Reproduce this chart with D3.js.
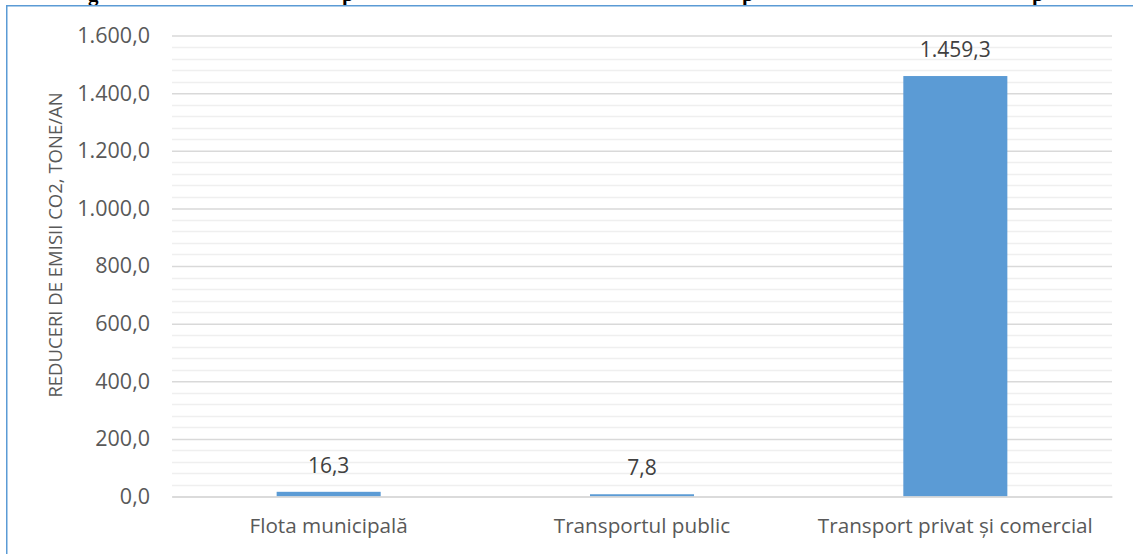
<!DOCTYPE html>
<html><head><meta charset="utf-8">
<script src="https://cdn.jsdelivr.net/npm/d3@7"></script>
<style>
html,body{margin:0;padding:0;background:#fff;}
svg{display:block;}
text{font-family:"Open Sans",sans-serif;}
</style></head>
<body>
<svg id="chart" width="1133" height="554"></svg>
<script>
const categories = ["Flota municipală", "Transportul public", "Transport privat și comercial"];
const values = [16.3, 7.8, 1459.3];
const yTicks = [0, 200, 400, 600, 800, 1000, 1200, 1400, 1600];
const yTitle = "REDUCERI DE EMISII CO2, TONE/AN";
const titleGlyphs = [["g", 88], ["p", 342], ["p", 742], ["p", 1032]];

const ro = d3.formatLocale({decimal: ",", thousands: ".", grouping: [3], currency: ["", " lei"]});
const fmt = ro.format(",.1f");

const svg = d3.select("#chart");
const W = 1133, H = 554;
const x0 = 172, x1 = 1112, yTop = 35.5, yBot = 496.5;

const x = d3.scaleBand().domain(categories).range([x0, x1]).paddingInner(0.668).paddingOuter(0.334);
const y = d3.scaleLinear().domain([0, 1600]).range([yBot, yTop]);

// cut-off title (only descenders visible, as in the reference)
const t = svg.append("text").attr("y", 0.5)
  .style("font-family", "'Liberation Serif', serif").style("font-weight", "bold").style("font-size", "21px").attr("fill", "#000");
titleGlyphs.forEach(([g, gx]) => t.append("tspan").attr("x", gx).text(g));

// minor grid
const minor = d3.range(0, 1601, 40).filter(v => v % 200 !== 0);
svg.append("g").selectAll("line").data(minor).join("line")
  .attr("x1", x0).attr("x2", x1).attr("y1", d => Math.round(y(d)) + 0.5).attr("y2", d => Math.round(y(d)) + 0.5)
  .attr("stroke", "#efefef").attr("stroke-width", 1.3);

// major grid via axis
const yAxis = d3.axisLeft(y).tickValues(yTicks).tickFormat(fmt).tickSize(-(x1 - x0)).tickPadding(22);
const ga = svg.append("g").attr("transform", `translate(${x0},0)`).call(yAxis);
ga.select(".domain").remove();
ga.selectAll(".tick line").attr("stroke", "#d9d9d9").attr("stroke-width", 1.5);
ga.selectAll(".tick text").attr("fill", "#595959").style("font-size", "21.5px").style("font-family", "'Open Sans',sans-serif");

// bars
svg.append("g").selectAll("rect").data(values).join("rect")
  .attr("x", (d, i) => x(categories[i])).attr("width", x.bandwidth())
  .attr("y", d => y(d)).attr("height", d => yBot - y(d))
  .attr("fill", "#5b9bd5");

// data labels
svg.append("g").selectAll("text").data(values).join("text")
  .attr("x", (d, i) => x(categories[i]) + x.bandwidth() / 2)
  .attr("y", d => y(d) - 19)
  .attr("text-anchor", "middle").attr("fill", "#404040").style("font-size", "21px")
  .text(d => fmt(d));

// category axis
const xAxis = d3.axisBottom(x).tickSize(0).tickPadding(22);
const gx = svg.append("g").attr("transform", `translate(0,${yBot})`).call(xAxis);
gx.select(".domain").attr("stroke", "#d9d9d9").attr("stroke-width", 1.5);
gx.selectAll(".tick text").attr("fill", "#595959").style("font-size", "20.7px").style("font-family", "'Open Sans',sans-serif");

// y title
svg.append("text").attr("transform", "translate(62,245) rotate(-90)")
  .attr("text-anchor", "middle").attr("fill", "#595959").style("font-size", "18.5px").text(yTitle);

// frame
svg.append("path").attr("d", `M6.75,${H} V5.75 H${W}`).attr("fill", "none").attr("stroke", "#5b9bd5").attr("stroke-width", 1.5);
</script>
</body></html>
